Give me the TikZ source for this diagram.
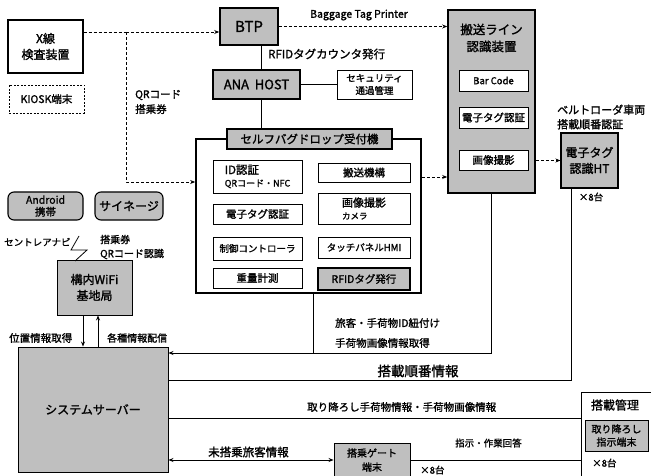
\documentclass[tikz,border=0pt]{standalone}
\usepackage{fontspec}
\setmainfont{Noto Sans CJK JP}[AutoFakeBold=1.4]
\usetikzlibrary{arrows.meta}
\newcommand\fz[2]{\fontsize{#1}{#2}\selectfont\bfseries}
\begin{document}
\begin{tikzpicture}[x=1pt,y=-1pt,
  ln/.style={line width=0.8pt},
  dl/.style={line width=0.9pt, dash pattern=on 3pt off 2pt},
  arr/.style={-{Stealth[length=5pt,width=4pt]}},
  darr/.style={{Stealth[length=5pt,width=4pt]}-{Stealth[length=5pt,width=4pt]}},
  wbox/.style={draw, line width=0.9pt, fill=white, align=center, inner sep=1pt},
  gbox/.style={wbox, fill=black!25},
  rbox/.style={gbox, rounded corners=6pt, line width=1.1pt},
  tbox/.style={line width=1.6pt},
  lbl/.style={inner sep=0pt, align=left, anchor=west},
  clbl/.style={inner sep=0pt, align=center}
]
\useasboundingbox (0,0) rectangle (651,476);
\fill[white] (0,0) rectangle (651,476);

% ---- top left
\node[wbox, line width=1.2pt, minimum width=75, minimum height=53, font=\fz{12}{16}] (xray) at (45.5,46.5) {X線\\検査装置};
\node[wbox, dash pattern=on 2pt off 1.5pt, minimum width=75, minimum height=28, font=\fz{10.5}{12}] (kiosk) at (46.5,99) {KIOSK端末};
\node[lbl, font=\fz{10.5}{15}] (qr) at (135,102) {QRコード\\搭乗券};

% ---- BTP / ANA HOST
\node[gbox, tbox, minimum width=58, minimum height=37, font=\fz{15}{17}] (btp) at (249,26.5) {BTP};
\node[gbox, tbox, minimum width=87, minimum height=29, font=\fz{13}{15}] (ana) at (256.5,84.5) {ANA\ \ HOST};
\node[wbox, minimum width=75, minimum height=29, font=\fz{9.5}{12.5}] (sec) at (374.5,84.5) {セキュリティ\\通過管理};
\node[lbl, font=\fz{10.5}{12}] (btplbl) at (310,15) {Baggage Tag Printer};
\node[lbl, font=\fz{11.5}{13}] (rfidlbl) at (268,54) {RFIDタグカウンタ発行};

% ---- self bag drop
\node[wbox, line width=1.7pt, minimum width=225, minimum height=154] (sbd) at (308.5,216) {};
\node[gbox, line width=1.3pt, minimum width=165, minimum height=20, font=\fz{11.5}{12}] (sbdt) at (309.5,139) {セルフバグドロップ受付機};
\node[wbox, minimum width=89, minimum height=33, align=left, font=\fz{9}{12.5}] (idn) at (257.5,176.5) {{\fz{11.5}{13}ID認証}\\QRコード・NFC};
\node[wbox, minimum width=92, minimum height=19, font=\fz{10.5}{12}] (hanso) at (364,172.5) {搬送機構};
\node[wbox, minimum width=89, minimum height=20, font=\fz{10.5}{12}] (etag) at (257.5,214) {電子タグ認証};
\node[wbox, minimum width=92, minimum height=31, align=left, font=\fz{8.5}{12.5}] (gazo) at (364,208.5) {{\fz{11}{13}画像撮影}\\カメラ};
\node[wbox, minimum width=89, minimum height=23, font=\fz{9.5}{12}] (seigyo) at (257.5,248.5) {制御コントローラ};
\node[wbox, minimum width=92, minimum height=21, font=\fz{9.5}{12}] (touch) at (364,247.5) {タッチパネルHMI};
\node[wbox, minimum width=89, minimum height=20, font=\fz{10.5}{12}] (juryo) at (257.5,278) {重量計測};
\node[gbox, line width=1.5pt, minimum width=92, minimum height=22, font=\fz{10.5}{12}] (rfid) at (364,279) {RFIDタグ発行};

% ---- conveyor line recognizer
\node[gbox, tbox, minimum width=87, minimum height=183] (conv) at (491.5,101.5) {};
\node[clbl, font=\fz{12.5}{17}] (convt) at (491.5,38) {搬送ライン\\認識装置};
\node[wbox, minimum width=69, minimum height=21, font=\fz{9.5}{12}] (bar) at (493.5,80.5) {Bar Code};
\node[wbox, minimum width=69, minimum height=21, font=\fz{10.5}{12}] (cetag) at (493.5,117.5) {電子タグ認証};
\node[wbox, minimum width=69, minimum height=20, font=\fz{10.5}{12}] (cgazo) at (493.5,160) {画像撮影};

% ---- HT
\node[gbox, line width=1.1pt, minimum width=57, minimum height=55, font=\fz{12}{16}] (ht) at (589.5,160.5) {電子タグ\\認識HT};
\node[lbl, font=\fz{11}{14.5}] (htlbl) at (557,117) {ベルトローダ車両\\搭載順番認証};
\node[clbl, font=\fz{9.5}{11}] (ht8) at (591,197) {×8台};

% ---- left devices
\node[rbox, minimum width=75, minimum height=28, font=\fz{10.5}{12}] (andr) at (45.5,206) {Android\\携帯};
\node[rbox, minimum width=68, minimum height=28, font=\fz{12}{13}] (sign) at (129,206) {サイネージ};
\node[lbl, font=\fz{9.5}{11}] (navi) at (4,242) {セントレアナビ};
\node[lbl, font=\fz{10}{14}] (signlbl) at (100,247) {搭乗券\\QRコード認識};
\node[gbox, minimum width=75, minimum height=55, font=\fz{12}{16}] (wifi) at (94.5,287.5) {構内WiFi\\基地局};
\node[gbox, minimum width=150, minimum height=125, font=\fz{12}{13}] (srv) at (93,409.5) {システムサーバー};
\node[lbl, font=\fz{10.5}{11}] (pos) at (9,338) {位置情報取得};
\node[lbl, font=\fz{10}{11}] (dist) at (107,338) {各種情報配信};

% ---- bottom right
\node[gbox, minimum width=76, minimum height=34, font=\fz{10}{14}] (gate) at (372,460) {搭乗ゲート\\端末};
\node[lbl, font=\fz{9.5}{11}] (gate8) at (420,470) {×8台};
\node[fill=white, minimum width=74, minimum height=88, anchor=north west, inner sep=0pt] (kanri) at (581,392) {};
\draw[ln] (kanri.north east) -- (kanri.north west) -- (kanri.south west);
\node[clbl, font=\fz{12}{13}] (kanrit) at (615,405) {搭載管理};
\node[gbox, minimum width=63, minimum height=31, font=\fz{10}{13}] (tori) at (616.5,435.5) {取り降ろし\\指示端末};
\node[lbl, font=\fz{9.5}{11}] (tori8) at (592,463) {×8台};

% ---- connector labels
\node[lbl, font=\fz{10.5}{11}] (l1) at (335,323) {旅客・手荷物ID紐付け};
\node[lbl, font=\fz{10.5}{11}] (l2) at (335,343) {手荷物画像情報取得};
\node[clbl, font=\fz{13.5}{14}] (l3) at (418,371) {搭載順番情報};
\node[lbl, font=\fz{10.5}{12}] (l4) at (307,407) {取り降ろし手荷物情報・手荷物画像情報};
\node[lbl, font=\fz{11.5}{12}] (l5) at (208,452) {未搭乗旅客情報};
\node[lbl, font=\fz{9.5}{11}] (l6) at (455,443) {指示・作業回答};

% ---- coordinates
\coordinate (j1) at (126,32);
\coordinate (j2) at (126,182);
\coordinate (v1) at (261,0);
\coordinate (c1) at (313,353);
\coordinate (c2) at (491.5,353);
\coordinate (c3) at (571,380);
\coordinate (h4) at (0,418);
\coordinate (z1) at (79,236);
\coordinate (z2) at (71,250);
\coordinate (z3) at (87,250);
\coordinate (z4) at (75,261);

% ---- connectors
\draw[dl] (xray.east |- j1) -- (j1);
\draw[dl, arr] (j1) -- (btp.west |- j1);
\draw[dl, arr] (j1) -- (j2) -- (sbd.west |- j2);
\draw[dl, arr] (btp.east) -- (conv.west |- btp.east);
\draw[ln] (btp.south -| v1) -- (ana.north -| v1);
\draw[ln] (ana.east) -- (sec.west);
\draw[ln] (ana.south -| v1) -- (sbdt.north -| v1);
\draw[dl, arr] (sbd.east |- 0,177) -- (conv.west |- 0,177);
\draw[dl, arr] (conv.east |- ht.west) -- (ht.west);
\draw[ln] (sbd.south -| c1) -- (c1);
\draw[ln] (conv.south) -- (c2);
\draw[ln, arr] (c2) -- (srv.east |- c2);
\draw[ln] (ht.south -| c3) -- (c3) -- (srv.east |- c3);
\draw[ln] (kanri.west |- h4) -- (srv.east |- h4);
\draw[ln, darr] (srv.east |- gate.west) -- (gate.west);
\draw[ln] (gate.east) -- (kanri.west |- gate.east);
\draw[ln, arr] (wifi.south -| 83,0) -- (srv.north -| 83,0);
\draw[ln, arr] (srv.north -| 98,0) -- (wifi.south -| 98,0);
\draw[ln] (z1) -- (z2) -- (z3) -- (z4);
\end{tikzpicture}
\end{document}
